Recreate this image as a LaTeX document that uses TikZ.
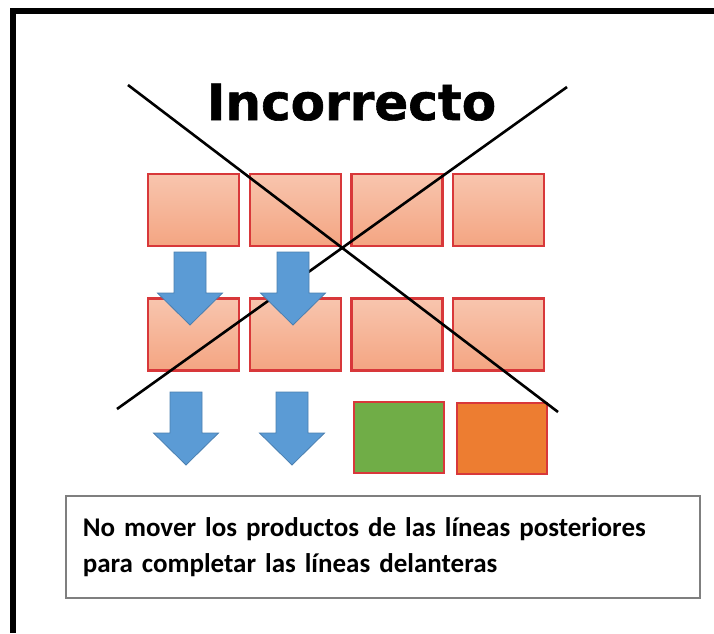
\documentclass[tikz,border=0pt]{standalone}
\usepackage{fontspec}
\setmainfont{Carlito}
\newfontfamily\titlefont[FakeBold=1.2]{DejaVu Sans Bold}

\definecolor{salmonTop}{HTML}{F8C5AE}
\definecolor{salmonBot}{HTML}{F4A582}
\definecolor{rojoBorde}{HTML}{D8383A}
\definecolor{azulFlecha}{HTML}{5B9BD5}
\definecolor{azulBorde}{HTML}{4A7FB0}
\definecolor{verde}{HTML}{70AD47}
\definecolor{naranja}{HTML}{ED7D31}
\definecolor{grisBorde}{HTML}{7F7F7F}

\tikzset{
  caja/.style={rectangle, draw=rojoBorde, line width=2.5pt, top color=salmonTop, bottom color=salmonBot, minimum width=91pt, minimum height=72pt, inner sep=0pt},
  lleno/.style={rectangle, draw=rojoBorde, line width=2pt, fill=#1, minimum width=90pt, minimum height=71pt, inner sep=0pt},
  flecha/.pic={
    \draw[fill=azulFlecha, draw=azulBorde, line width=0.8pt] (-16,0) -- (16,0) -- (16,41) -- (32.5,41) -- (0,73) -- (-32.5,41) -- (-16,41) -- cycle;
  }
}

\begin{document}
\begin{tikzpicture}[x=1pt, y=-1pt]
  \useasboundingbox (0,0) rectangle (714,633);

  % marco
  \draw[line width=6pt] (13,633) -- (13,11) -- (714,11);

  \node[font=\titlefont\fontsize{50}{50}\selectfont, anchor=base] (titulo) at (351.5,120) {Incorrecto};

  % fila trasera
  \node[caja] (a1) at (193.5,210) {};
  \node[caja] (a2) at (295.5,210) {};
  \node[caja] (a3) at (397,210) {};
  \node[caja] (a4) at (498.5,210) {};

  % fila del medio
  \node[caja] (b1) at (193.5,334.5) {};
  \node[caja] (b2) at (295.5,334.5) {};
  \node[caja] (b3) at (397,334.5) {};
  \node[caja] (b4) at (498.5,334.5) {};

  % fila delantera
  \node[lleno=verde] (c3) at (399,437.5) {};
  \node[lleno=naranja] (c4) at (502,438.5) {};

  % cruz
  \coordinate (x1) at (128,85);
  \coordinate (x2) at (558,412);
  \coordinate (x3) at (567,87);
  \coordinate (x4) at (117,409);
  \draw[line width=2.6pt] (x1) -- (x2);
  \draw[line width=2.6pt] (x3) -- (x4);

  \pic at (190,252) {flecha};
  \pic at (293,252) {flecha};
  \pic at (186,392) {flecha};
  \pic at (292,392) {flecha};

  \node[draw=grisBorde, line width=1.5pt, minimum width=634pt, minimum height=102pt, anchor=north west, text width=600pt, inner xsep=17pt, align=left, font=\bfseries\fontsize{27}{36}\selectfont] (nota) at (65,495) {No mover los productos de las líneas posteriores\\para completar las líneas delanteras};
\end{tikzpicture}
\end{document}
